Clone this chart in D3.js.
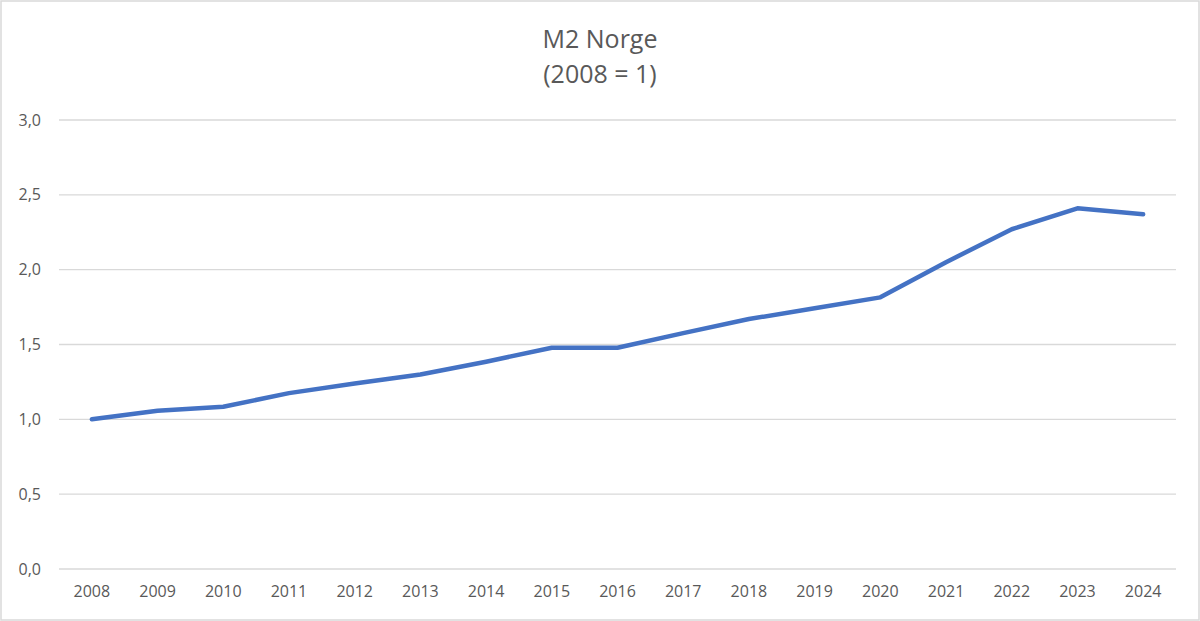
<!DOCTYPE html>
<html>
<head>
<meta charset="utf-8">
<script src="https://cdn.jsdelivr.net/npm/d3@7"></script>
<style>
  body { margin: 0; background: #fff; }
  svg { display: block; font-family: "Open Sans", "Liberation Sans", sans-serif; }
  .grid line { stroke: #d9d9d9; stroke-width: 1.3; }
  .axis text { fill: #595959; font-size: 16px; font-family: "Open Sans", "Liberation Sans", sans-serif; }
</style>
</head>
<body>
<div class="container"></div>
<script>
//chart data
var years = ["2008", "2009", "2010", "2011", "2012", "2013", "2014", "2015", "2016",
             "2017", "2018", "2019", "2020", "2021", "2022", "2023", "2024"];
var m2Index = [1.00, 1.057, 1.084, 1.175, 1.24, 1.30, 1.385, 1.478, 1.478,
               1.576, 1.67, 1.742, 1.815, 2.05, 2.27, 2.41, 2.37];
var yTicks = [0, 0.5, 1, 1.5, 2, 2.5, 3];
var titleLines = ["M2 Norge", "(2008 = 1)"];

(function () {
    var width = 1200, height = 621;
    var left = 59, right = 1176, top = 120, bottom = 569;

    var svg = d3.select(".container")
        .append("svg")
        .attr("width", width)
        .attr("height", height);

    //outer frame
    svg.append("rect")
        .attr("x", 1).attr("y", 1)
        .attr("width", width - 2).attr("height", height - 2)
        .attr("fill", "#fff")
        .attr("stroke", "#d9d9d9")
        .attr("stroke-width", 1.5);

    var x = d3.scaleBand().domain(years).range([left, right]);
    var y = d3.scaleLinear().domain([0, 3]).range([bottom, top]);

    //gridlines
    svg.append("g")
        .attr("class", "grid")
        .selectAll("line")
        .data(yTicks)
        .enter()
        .append("line")
        .attr("x1", left).attr("x2", right)
        .attr("y1", function (d) { return y(d); })
        .attr("y2", function (d) { return y(d); });

    //y axis labels
    var yAxis = d3.axisLeft(y)
        .tickValues(yTicks)
        .tickSize(0)
        .tickPadding(18)
        .tickFormat(function (d) { return d3.format(".1f")(d).replace(".", ","); });
    svg.append("g")
        .attr("class", "axis")
        .attr("transform", "translate(" + left + ",0)")
        .call(yAxis)
        .call(function (g) { g.select(".domain").remove(); });

    //x axis labels
    var xAxis = d3.axisBottom(x).tickSize(0).tickPadding(17);
    svg.append("g")
        .attr("class", "axis")
        .attr("transform", "translate(0," + bottom + ")")
        .call(xAxis)
        .call(function (g) { g.select(".domain").remove(); });

    //the line
    var line = d3.line()
        .x(function (d, i) { return x(years[i]) + x.bandwidth() / 2; })
        .y(function (d) { return y(d); });

    svg.append("path")
        .datum(m2Index)
        .attr("d", line)
        .attr("fill", "none")
        .attr("stroke", "#4472C4")
        .attr("stroke-width", 4.5)
        .attr("stroke-linecap", "round")
        .attr("stroke-linejoin", "round");

    //title
    svg.append("g")
        .selectAll("text")
        .data(titleLines)
        .enter()
        .append("text")
        .attr("x", 600)
        .attr("y", function (d, i) { return 48 + i * 35; })
        .attr("text-anchor", "middle")
        .attr("fill", "#595959")
        .style("font-size", "25px")
        .text(function (d) { return d; });
})();
</script>
</body>
</html>
